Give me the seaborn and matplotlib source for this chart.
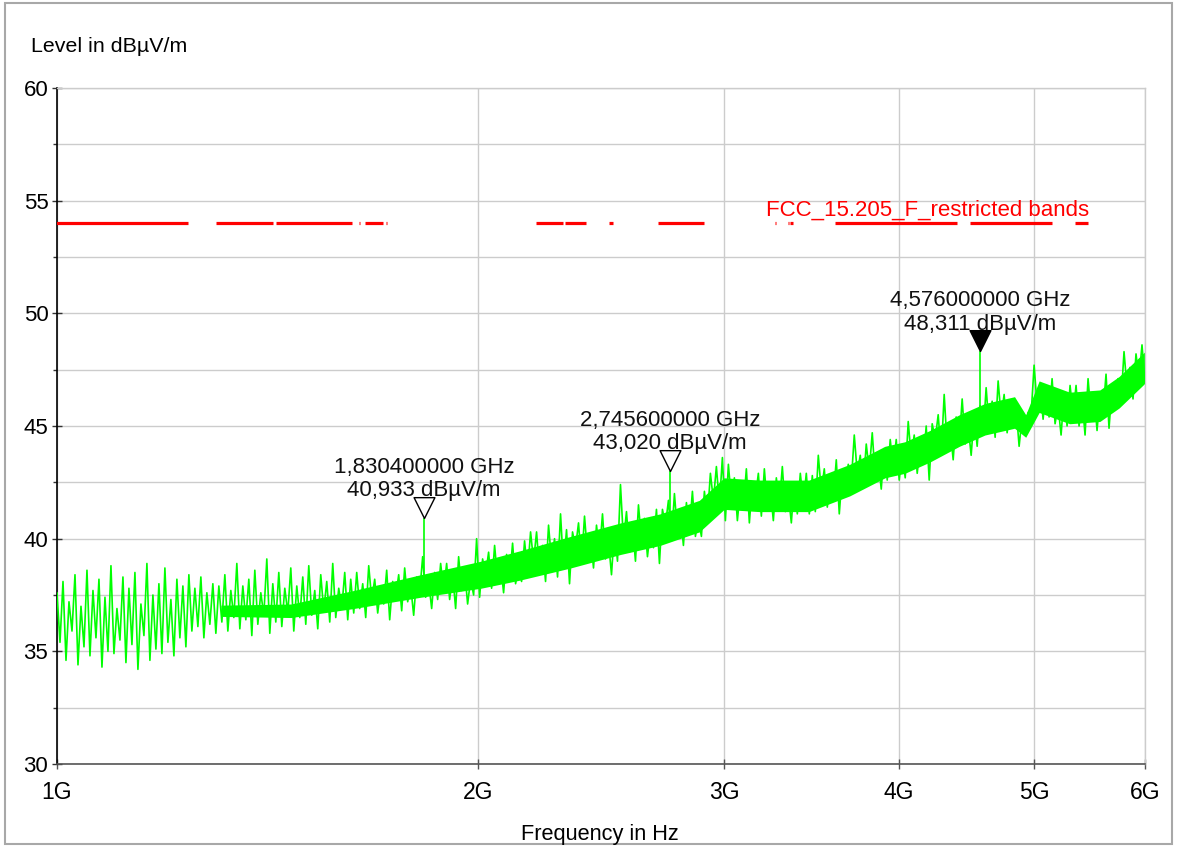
import numpy as np
import matplotlib
matplotlib.use("Agg")
import matplotlib.pyplot as plt
from matplotlib.ticker import FixedLocator, NullLocator, MultipleLocator
from matplotlib.patches import Rectangle
import seaborn as sns

# ---------------- data ----------------
# measured trace (dBuV/m), sweep points evenly spaced (log) from 1 to 6 GHz
trace_level = [
    37.6, 35.4, 38.1, 34.6, 37.2, 35.9, 38.4, 34.4, 37.0, 35.2,
    38.6, 34.8, 37.7, 35.6, 38.2, 34.3, 37.4, 35.0, 38.8, 34.9,
    36.9, 35.5, 38.3, 34.5, 37.8, 35.3, 38.5, 34.2, 37.1, 35.7,
    38.9, 34.6, 37.5, 35.1, 38.0, 34.9, 38.7, 35.4, 37.3, 34.8,
    38.2, 35.6, 37.9, 35.2, 38.4,
    35.9, 37.8, 36.1, 38.3, 35.6, 37.6, 36.2, 38.0, 35.8, 37.9,
    36.3, 38.4, 35.9, 37.7, 36.5, 38.9, 36.0, 37.9, 36.4, 38.2,
    35.7, 38.6, 36.2, 37.6, 36.6, 39.1, 35.8, 38.0, 36.3, 38.5,
    36.1, 37.8, 36.7, 38.7, 35.9, 37.9, 36.5, 38.3, 36.2, 38.8,
    36.6, 37.7, 36.0, 38.4, 36.8, 38.1, 36.3, 38.9, 36.5, 37.8,
    36.9, 38.5, 36.4, 38.2, 36.7,
    38.5, 36.9, 38.0, 36.5, 38.8, 37.3, 38.2, 36.7, 37.8, 37.1,
    38.6, 36.4, 38.1, 37.4, 38.4, 36.8, 38.7, 37.2, 37.9, 36.6,
    38.3,
    37.6, 39.2, 37.4, 38.1, 36.9, 38.5, 37.3, 38.9, 37.7, 38.9,
    37.3, 38.4, 36.9, 39.2, 37.7, 38.6, 37.1, 38.2, 37.5, 40.0,
    37.4, 39.1, 38.4, 39.4, 37.8, 39.7, 38.2, 38.9, 37.6, 39.3,
    38.2, 39.8, 38.0, 38.7,
    38.1, 39.9, 38.5, 40.3, 39.0, 40.3, 38.5, 39.7, 38.1, 40.6,
    39.0, 40.0, 38.3, 41.1, 38.7, 40.4, 38.0,
    40.3, 39.6, 40.7, 38.9, 41.0, 39.3, 40.1, 38.7, 40.6, 39.4,
    41.1, 39.1, 39.9, 38.4, 40.4, 39.0,
    42.4, 39.9, 41.2, 39.4, 40.6, 39.0, 41.5, 39.9, 40.9, 39.2,
    40.4, 39.6, 41.3, 38.9,
    41.3, 40.6, 41.7, 39.9, 42.0, 40.3, 41.1, 39.7, 41.6, 40.4,
    42.1, 40.1, 40.9,
    40.1, 42.1, 40.9, 42.9, 41.7, 43.2, 41.5, 43.6,
    40.8, 43.3, 41.7, 42.7, 40.8, 42.2, 41.4, 43.1, 40.7, 42.5,
    41.8, 42.9,
    41.0, 43.1, 41.4, 42.2, 40.8, 42.7, 41.5, 43.2, 41.2, 42.0,
    40.7, 42.5, 41.1, 42.9, 41.6, 42.9, 41.1,
    42.8, 41.2, 43.7, 42.1, 43.1, 41.4, 42.6, 41.8, 43.5, 41.1,
    42.9, 42.2, 43.3,
    42.5, 44.6, 42.9, 43.7, 42.3, 44.2, 43.0, 44.7, 42.7, 43.5,
    42.2, 44.0,
    42.6, 44.4, 43.1, 44.4, 42.6, 43.8,
    42.7, 45.2, 43.6, 44.6, 42.9, 44.1, 43.3, 45.0, 42.6,
    45.1, 44.4, 45.5, 43.7, 46.4, 44.1, 44.9, 43.5, 45.4, 44.2,
    46.2, 44.2, 45.0, 43.7, 45.5, 44.1, 45.9, 44.6,
    46.7, 44.9, 46.1, 44.5, 47.0, 45.4, 46.4, 44.7, 45.9, 45.1,
    45.8, 44.1, 45.4, 44.9, 45.6,
    45.5, 47.7, 45.9, 46.7, 45.3,
    46.6, 45.4, 47.1, 45.1, 45.9, 44.6, 46.4, 45.0, 46.8, 45.5,
    46.8, 45.0, 46.2, 44.6, 47.1, 45.5, 46.5, 44.8,
    46.4, 45.6, 47.3, 44.9, 46.7, 46.0, 47.1,
    46.1, 48.3, 46.7, 47.6, 46.2, 48.2, 47.1, 48.6, 46.9,
]
sweep_start_ghz = 1.0
sweep_stop_ghz = 6.0

# dense core of the trace (read envelope)
band_freq = [1.31, 1.47, 1.63, 1.82, 2.01, 2.14, 2.33, 2.53, 2.70, 2.88, 3.00, 3.18, 3.45,
             3.69, 3.91, 4.04, 4.21, 4.42, 4.61, 4.84, 4.93, 5.04, 5.30, 5.57, 5.75, 6.00]
band_low = [36.55, 36.5, 36.9, 37.4, 37.8, 38.15, 38.7, 39.3, 39.7, 40.3, 41.3, 41.2, 41.2,
            41.9, 42.7, 42.9, 43.4, 44.1, 44.6, 44.9, 44.5, 45.6, 45.1, 45.2, 45.8, 46.9]
band_high = [37.05, 37.1, 37.7, 38.4, 39.0, 39.45, 40.1, 40.7, 41.1, 41.7, 42.7, 42.6, 42.6,
             43.3, 44.1, 44.3, 44.8, 45.5, 46.0, 46.3, 45.5, 47.0, 46.5, 46.6, 47.2, 48.3]

# FCC 15.205 restricted bands (MHz) and limit
band_start_mhz = [960, 1300, 1435, 1645.5, 1660, 1718.8, 2200, 2310, 2483.5, 2690,
                  3260, 3332, 3345.8, 3600, 4500, 5350]
band_stop_mhz = [1240, 1427, 1626.5, 1646.5, 1710, 1722.2, 2300, 2390, 2500, 2900,
                 3267, 3339, 3358, 4400, 5150, 5460]
limit_level = 54.0
limit_name = "FCC_15.205_F_restricted bands"
limit_label_ghz = 3.214

# markers
marker_freq = [1.8304, 2.7456, 4.576]
marker_level = [40.933, 43.020, 48.311]
marker_base = [37.8, 40.6, 45.0]
marker_active = [False, False, True]

x_ticks = [1, 2, 3, 4, 5, 6]
x_tick_labels = ["1G", "2G", "3G", "4G", "5G", "6G"]
y_ticks = [30, 35, 40, 45, 50, 55, 60]

# ---------------- style ----------------
sns.set_theme(style="white")
plt.rcParams["font.family"] = ["Liberation Sans", "DejaVu Sans"]
plt.rcParams["path.simplify"] = False

W, H = 1179, 847
fig = plt.figure(figsize=(W / 100, H / 100), dpi=100)
fig.patch.set_facecolor("white")
ax = fig.add_axes([57 / W, 1 - 764 / H, (1145 - 57) / W, (764 - 88) / H])
ax.set_facecolor("white")

sweep = np.geomspace(sweep_start_ghz, sweep_stop_ghz, len(trace_level))

ax.set_xscale("log")
ax.set_axisbelow(True)

# trace
ax.fill_between(band_freq, band_low, band_high, color="#00ff00", lw=0, zorder=2)
sns.lineplot(x=sweep, y=trace_level, ax=ax, color="#00ff00", lw=1.2,
             estimator=None, sort=False, legend=False, zorder=3)

# marker spikes
ax.vlines(marker_freq, marker_base, marker_level, color="#00ff00", lw=1.2, zorder=3)

# limit lines
ax.hlines([limit_level] * len(band_start_mhz),
          [s / 1000 for s in band_start_mhz], [e / 1000 for e in band_stop_mhz],
          color="#ff0000", lw=2.3, zorder=4)
ax.annotate(limit_name, xy=(limit_label_ghz, limit_level), xytext=(0, 1.5),
            textcoords="offset points", ha="left", va="bottom",
            color="#ff0000", fontsize=16, zorder=5)

# markers and labels
tri = [(0, 0), (-0.5, 1), (0.5, 1), (0, 0)]
for f, lv, act in zip(marker_freq, marker_level, marker_active):
    ax.plot([f], [lv], marker=tri, markersize=30, color="black",
            markerfacecolor="black" if act else "none", markeredgewidth=1.0,
            linestyle="none", zorder=6)
    label = f"{f:.9f}".replace(".", ",") + " GHz\n" + f"{lv:.3f}".replace(".", ",") + " dBµV/m"
    ax.annotate(label, xy=(f, lv), xytext=(0, 12), textcoords="offset points",
                ha="center", va="bottom", multialignment="center",
                fontsize=16, color="#111111", zorder=7, linespacing=1.15)

# axes
ax.set_xlim(1, 6)
ax.set_ylim(30, 60)
ax.xaxis.set_major_locator(FixedLocator(x_ticks))
ax.xaxis.set_minor_locator(NullLocator())
ax.set_xticklabels(x_tick_labels)
ax.yaxis.set_major_locator(FixedLocator(y_ticks))
ax.yaxis.set_minor_locator(MultipleLocator(2.5))
ax.grid(True, which="both", axis="y", color="#cccccc", lw=1.0)
ax.grid(True, which="major", axis="x", color="#cccccc", lw=1.0)
ax.set_xlabel("")
ax.set_ylabel("")

for side in ["top", "right"]:
    ax.spines[side].set_color("#cccccc")
    ax.spines[side].set_linewidth(1.0)
ax.spines["left"].set_color("black")
ax.spines["left"].set_linewidth(1.2)
ax.spines["bottom"].set_color("#555555")
ax.spines["bottom"].set_linewidth(1.2)

ax.tick_params(axis="y", which="major", direction="inout", length=6.5, width=1.0,
               color="#333333", labelsize=16, pad=3, labelcolor="black", left=True)
ax.tick_params(axis="y", which="minor", direction="out", length=3, width=1.0,
               color="#333333", left=True)
ax.tick_params(axis="x", which="major", direction="inout", length=7, width=1.0,
               color="#555555", labelsize=16.5, pad=9, labelcolor="black", bottom=True)

fig.text(31 / W, 1 - 47 / H, "Level in dBµV/m", ha="left", va="center", fontsize=15.4, color="black")
fig.text(600 / W, 1 - 834 / H, "Frequency in Hz", ha="center", va="center", fontsize=15.7, color="black")

fig.add_artist(Rectangle((5 / W, 3 / H), (1172 - 5) / W, (844 - 3) / H,
                         transform=fig.transFigure, fill=False, ec="#a8a8a8", lw=1.5))

fig.savefig("out.png", dpi=100)
